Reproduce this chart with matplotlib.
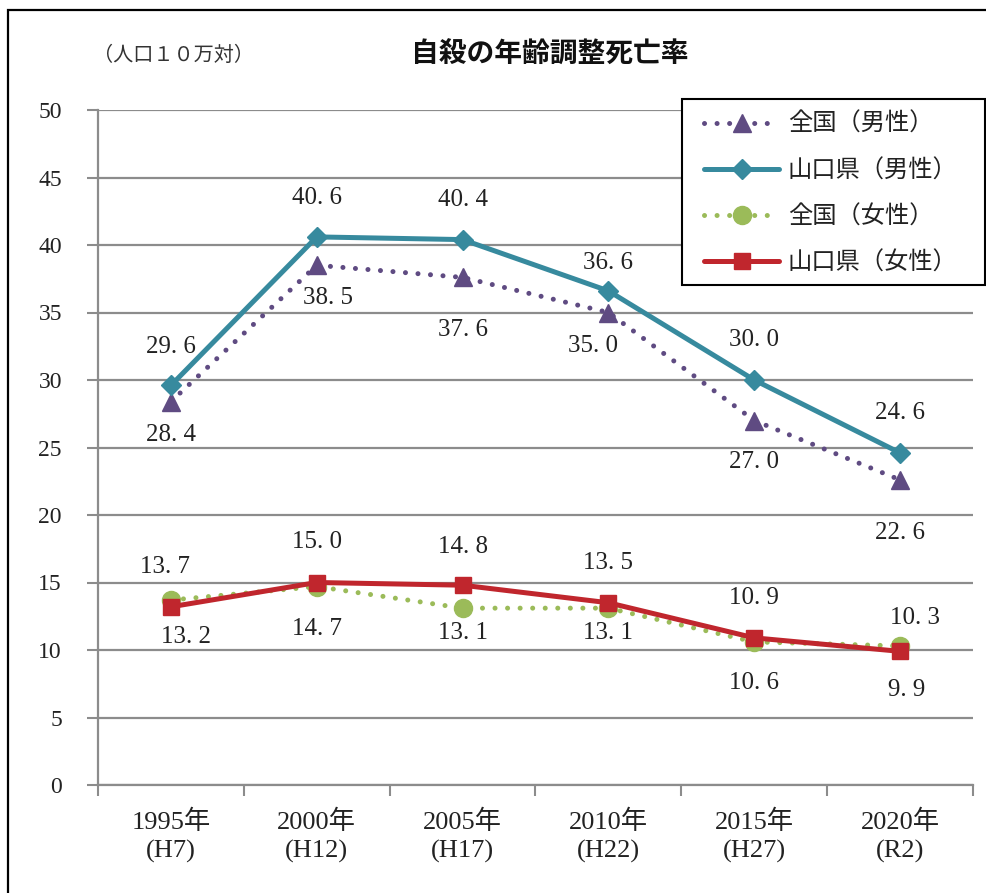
import matplotlib
matplotlib.use("Agg")
import matplotlib.pyplot as plt
from matplotlib.patches import Rectangle

plt.rcParams['font.family'] = ['Liberation Serif', 'Noto Sans CJK JP']

years = ["1995年\n(H7)", "2000年\n(H12)", "2005年\n(H17)", "2010年\n(H22)", "2015年\n(H27)", "2020年\n(R2)"]
zenkoku_male = [28.4, 38.5, 37.6, 35.0, 27.0, 22.6]
yamaguchi_male = [29.6, 40.6, 40.4, 36.6, 30.0, 24.6]
zenkoku_female = [13.7, 14.7, 13.1, 13.1, 10.6, 10.3]
yamaguchi_female = [13.2, 15.0, 14.8, 13.5, 10.9, 9.9]
names = ["全国（男性）", "山口県（男性）", "全国（女性）", "山口県（女性）"]

PURPLE = "#5F4B82"
TEAL = "#378A9E"
GREEN = "#9BBB59"
RED = "#C0262D"
GRID = "#8C8C8C"

# label offsets in pixels (dx, dy), dy positive = down
off_zm = [(0, 33), (11, 33), (0, 53), (-15, 33), (0, 41), (0, 53)]
off_ym = [(0, -38), (0, -39), (0, -40), (0, -28), (0, -40), (0, -40)]
off_zf = [(-6, -33), (0, 42), (0, 25), (0, 25), (0, 41), (15, -28)]
off_yf = [(15, 30), (0, -40), (0, -38), (0, -40), (0, -40), (7, 39)]

fig = plt.figure(figsize=(9.87, 8.93), dpi=100)
ax = fig.add_axes([98 / 987, 1 - 785 / 893, 875 / 987, 675 / 893])

x = list(range(len(years)))
dot = (0, (0.01, 2.5))
ax.plot(x, zenkoku_male, color=PURPLE, lw=3.6, ls=dot, dash_capstyle="round",
        marker="^", ms=13, label=names[0], zorder=3)
ax.plot(x, yamaguchi_male, color=TEAL, lw=3.6, solid_capstyle="round",
        marker="D", ms=10, label=names[1], zorder=4)
ax.plot(x, zenkoku_female, color=GREEN, lw=3.6, ls=dot, dash_capstyle="round",
        marker="o", ms=13, label=names[2], zorder=3)
ax.plot(x, yamaguchi_female, color=RED, lw=3.6, solid_capstyle="round",
        marker="s", ms=12, label=names[3], zorder=4)

for vals, offs in [(zenkoku_male, off_zm), (yamaguchi_male, off_ym),
                   (zenkoku_female, off_zf), (yamaguchi_female, off_yf)]:
    for i, (v, (dx, dy)) in enumerate(zip(vals, offs)):
        ax.annotate(f"{v:.1f}".replace(".", ". "), (i, v), xytext=(dx, -dy),
                    textcoords="offset pixels", ha="center", va="center",
                    fontsize=18, color="#222222", zorder=5)

ax.set_xlim(-0.5, len(years) - 0.5)
ax.set_ylim(0, 50)
ax.set_yticks(range(0, 51, 5))
ax.set_xticks(x)
ax.set_xticklabels(years, fontsize=19, linespacing=1.3)
ax.set_xticks([i - 0.5 for i in range(len(years) + 1)], minor=True)
ax.tick_params(axis="x", which="major", length=0, pad=18)
ax.tick_params(axis="x", which="minor", length=8, width=1.5, color=GRID, direction="out")
ax.tick_params(axis="y", length=8, width=1.5, color=GRID, labelsize=17, pad=18)
for lab in ax.get_yticklabels() + ax.get_xticklabels():
    lab.set_color("#222222")

ax.grid(axis="y", color=GRID, lw=1.6)
ax.set_axisbelow(True)
for s in ["top", "right"]:
    ax.spines[s].set_visible(False)
for s in ["left", "bottom"]:
    ax.spines[s].set_color(GRID)
    ax.spines[s].set_linewidth(1.6)

# legend box drawn separately so the padding can be uneven like the original
box = Rectangle((682 / 987, 1 - 285 / 893), 303 / 987, 186 / 893, transform=fig.transFigure,
                facecolor="white", edgecolor="black", lw=1.5, clip_on=False, zorder=4.9)
ax.add_patch(box)
leg = ax.legend(loc="upper left", bbox_to_anchor=(693 / 987, 1 - 102 / 893),
                bbox_transform=fig.transFigure, fontsize=17.5, frameon=False,
                handlelength=3.1, labelspacing=0.95, borderpad=0.45,
                handletextpad=0.35, borderaxespad=0)
leg.set_zorder(5)
for t in leg.get_texts():
    t.set_color("#222222")

fig.text(550 / 987, 1 - 55 / 893, "自殺の年齢調整死亡率", ha="center", va="center",
         fontsize=20, fontweight="bold", family="Noto Sans CJK JP", color="#111111")
fig.text(93 / 987, 1 - 55 / 893, "（人口１０万対）", ha="left", va="center",
         fontsize=14.5, family="Noto Sans CJK JP", color="#333333")

fig.patches.append(Rectangle((8 / 987, -0.1), 1.2, 1.1 - 10 / 893, transform=fig.transFigure,
                             fill=False, edgecolor="black", lw=1.6))

fig.savefig("out.png", dpi=100, facecolor="white")
